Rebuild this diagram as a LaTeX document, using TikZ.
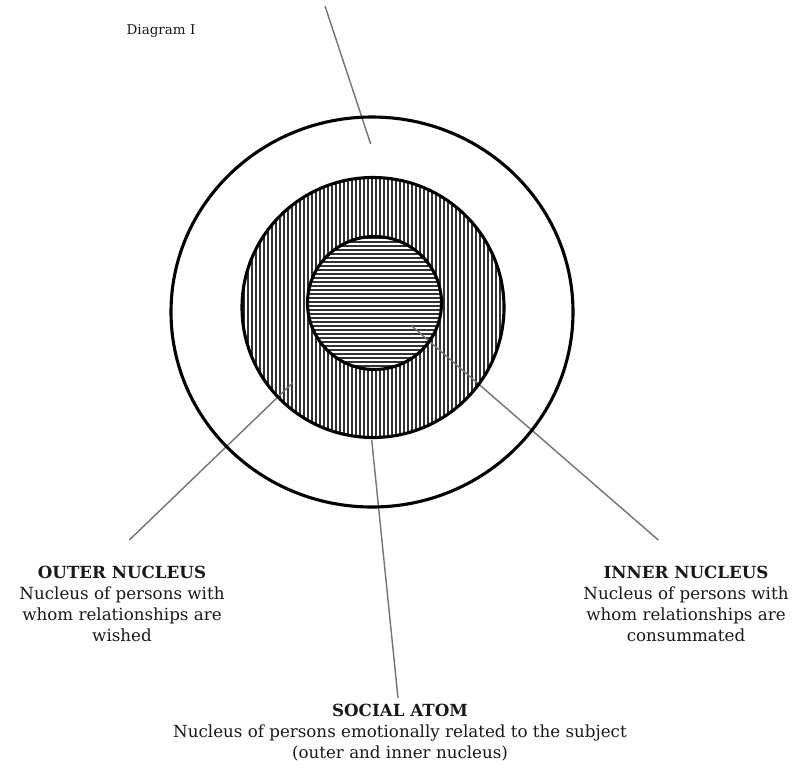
\documentclass[tikz,border=0pt]{standalone}
\usepackage{fontspec}
\setmainfont{DejaVu Serif}
\begin{document}
\begin{tikzpicture}[x=1pt,y=-1pt,
  ring/.style={line width=3.1pt, draw=black},
  leader/.style={line width=1.4pt, draw=black!55},
  hatch/.style={line width=1.35pt, draw=black!80},
  lbl/.style={align=center, font=\fontsize{16.7}{21}\selectfont, inner sep=0pt, text=black!90}]
\useasboundingbox (0,0) rectangle (797,777);
\fill[white] (0,0) rectangle (797,777);
% centres
\coordinate (oc) at (372,312);
\coordinate (mc) at (373,307.5);
\coordinate (ic) at (374.5,303);
% vertical hatching of the outer nucleus ring
\begin{scope}
  \clip (mc) ellipse [x radius=131, y radius=130];
  \foreach \i in {0,...,68} \draw[hatch] (240+\i*4,170) -- (240+\i*4,445);
\end{scope}
\fill[white] (ic) ellipse [x radius=67, y radius=66.5];
% horizontal hatching of the inner nucleus
\begin{scope}
  \clip (ic) ellipse [x radius=67, y radius=66.5];
  \foreach \i in {0,...,36} \draw[hatch] (300,234+\i*4) -- (450,234+\i*4);
\end{scope}
% leader end points
\coordinate (topA) at (325,6);
\coordinate (topB) at (370.7,144);
\coordinate (onA) at (292.7,382.7);
\coordinate (onB) at (129.3,540);
\coordinate (inA) at (411.7,326);
\coordinate (inB) at (658.3,540);
\coordinate (saA) at (371.7,440);
\coordinate (saB) at (398,698);
\draw[leader] (topA) -- (topB);
\draw[leader] (onA) -- (onB);
\draw[leader] (inA) -- (inB);
\draw[leader] (saA) -- (saB);
% rings
\draw[ring] (oc) ellipse [x radius=201, y radius=195];
\draw[ring] (mc) ellipse [x radius=131, y radius=130];
\draw[ring] (ic) ellipse [x radius=67, y radius=66.5];
% labels
\node[lbl, font=\fontsize{13.5}{16}\selectfont] (title) at (161,31) {Diagram I};
\node[lbl, anchor=north] (outer) at (122,566) {\textbf{OUTER NUCLEUS}\\Nucleus of persons with\\whom relationships are\\wished};
\node[lbl, anchor=north] (inner) at (686,566) {\textbf{INNER NUCLEUS}\\Nucleus of persons with\\whom relationships are\\consummated};
\node[lbl, anchor=north] (atom) at (400,704) {\textbf{SOCIAL ATOM}\\Nucleus of persons emotionally related to the subject\\(outer and inner nucleus)};
\end{tikzpicture}
\end{document}
